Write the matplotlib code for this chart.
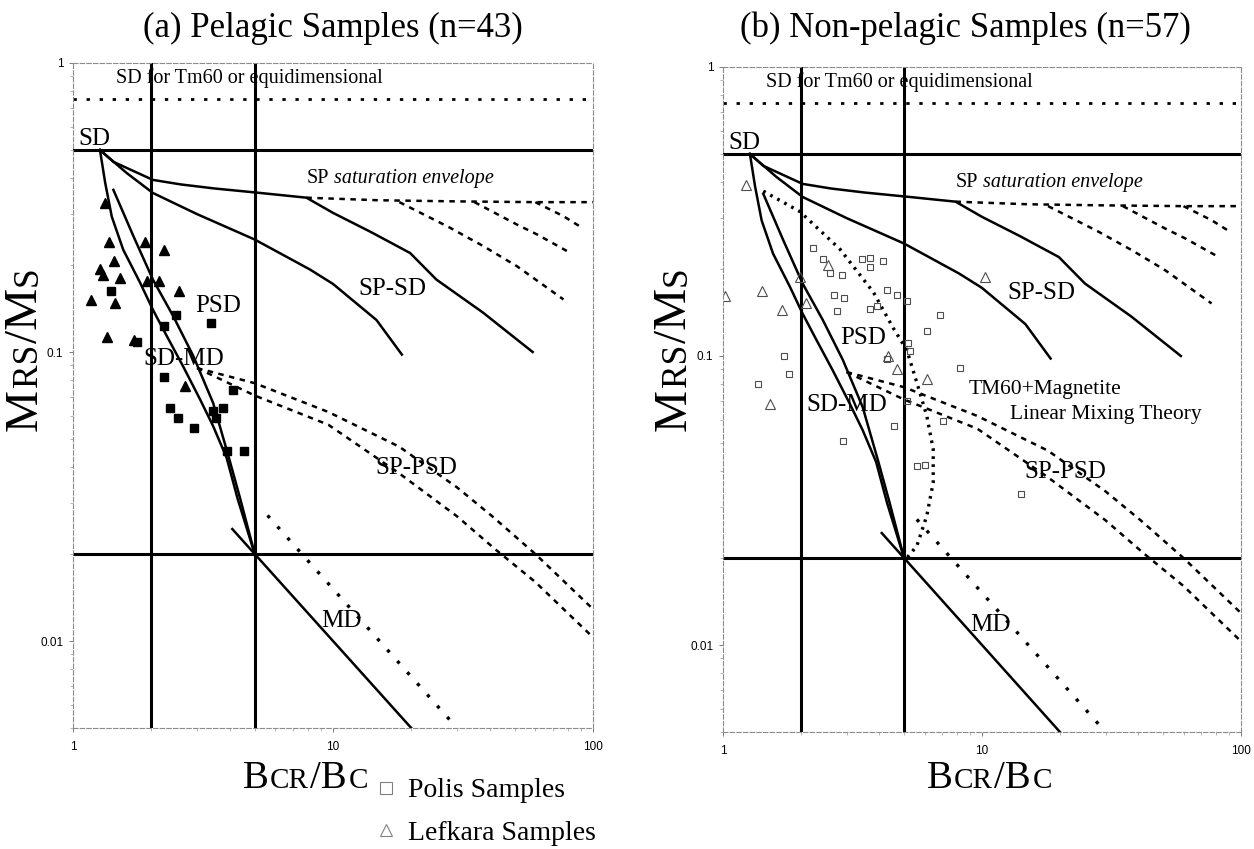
import numpy as np
import matplotlib.pyplot as plt
from matplotlib.lines import Line2D
from matplotlib.textpath import TextToPath
from matplotlib.font_manager import FontProperties
from matplotlib.transforms import offset_copy

SERIF = "Liberation Serif"
SANS = "Liberation Sans"

# ---------------------------------------------------------------------------
# Reference grid (Bcr/Bc, Mrs/Ms)
# ---------------------------------------------------------------------------
bc_ratio_lines = [2.0, 5.0]
ms_ratio_lines = [0.5, 0.02]
equidim_level = 0.75

# SD-MD mixing curves
sdmd1_x = [1.27, 1.33, 1.41, 1.56, 1.81, 2.03, 2.29, 2.65, 3.08, 3.46, 3.9, 4.3, 5.0]
sdmd1_y = [0.5, 0.385, 0.294, 0.226, 0.174, 0.14, 0.114, 0.0893, 0.0686, 0.0554, 0.043, 0.031, 0.02]
sdmd2_x = [1.43, 1.71, 2.03, 2.43, 2.9, 3.46, 3.96, 4.4, 5.0]
sdmd2_y = [0.364, 0.251, 0.178, 0.133, 0.097, 0.0666, 0.0437, 0.031, 0.02]

# SP-SD mixing curves and SP saturation envelope
spsd1_x = [1.27, 1.43, 2.03, 2.6, 3.5, 5.1, 7.9, 10, 14, 19.8, 25, 37.7, 58.6]
spsd1_y = [0.5, 0.455, 0.394, 0.38, 0.368, 0.356, 0.342, 0.303, 0.26, 0.22, 0.178, 0.137, 0.1]
spsd2_x = [1.27, 1.61, 2.03, 3.0, 5.0, 8.15, 10, 14.7, 18.4]
spsd2_y = [0.5, 0.416, 0.355, 0.3, 0.245, 0.193, 0.172, 0.129, 0.098]
env_x = [7.9, 15, 30, 60, 100]
env_y = [0.342, 0.335, 0.332, 0.33, 0.33]
env_b1_x = [18, 28, 38, 51, 77]
env_b1_y = [0.33, 0.27, 0.232, 0.198, 0.152]
env_b2_x = [35, 51, 61, 82]
env_b2_y = [0.33, 0.276, 0.255, 0.22]
env_b3_x = [60, 77, 89]
env_b3_y = [0.33, 0.295, 0.272]

# SP-PSD curves
sppsd1_x = [3.0, 5.0, 9.6, 18, 30, 41, 60, 100]
sppsd1_y = [0.088, 0.078, 0.062, 0.047, 0.034, 0.027, 0.02, 0.0129]
sppsd2_x = [3.0, 5.0, 9.6, 18, 30, 42, 60, 100]
sppsd2_y = [0.088, 0.0707, 0.056, 0.038, 0.027, 0.0208, 0.016, 0.0103]

# MD trends
md_x = [4.1, 20.2]
md_y = [0.0244, 0.00495]
md_dot_x = [5.6, 30]
md_dot_y = [0.0272, 0.005]

# TM60 + magnetite linear mixing (non-pelagic panel)
tm60_x = [1.43, 1.98, 2.83, 3.81, 4.54, 5.12, 5.6, 6.12, 6.48, 6.48, 6.12, 5.6, 5.0]
tm60_y = [0.372, 0.316, 0.234, 0.166, 0.125, 0.105, 0.081, 0.062, 0.0476, 0.0365, 0.028, 0.022, 0.0195]

# ---------------------------------------------------------------------------
# Samples
# ---------------------------------------------------------------------------
pel_lefkara_x = [1.33, 1.37, 1.89, 2.23, 1.44, 1.27, 1.31, 1.52, 1.92, 2.15, 2.56, 1.17, 1.45, 1.35, 1.71, 2.69]
pel_lefkara_y = [0.328, 0.241, 0.241, 0.226, 0.206, 0.193, 0.184, 0.181, 0.176, 0.176, 0.162, 0.151, 0.148, 0.113, 0.11, 0.0764]
pel_polis_x = [1.40, 2.5, 2.24, 3.38, 1.76, 2.23, 4.14, 2.37, 3.76, 2.54, 3.46, 3.55, 2.92, 3.92, 4.55]
pel_polis_y = [0.162, 0.134, 0.123, 0.126, 0.108, 0.0819, 0.074, 0.064, 0.064, 0.0593, 0.0625, 0.0593, 0.0547, 0.0454, 0.0454]

np_lefkara_x = [1.23, 1.02, 1.42, 1.69, 1.98, 2.09, 2.55, 1.52, 4.35, 4.68, 6.15, 10.3]
np_lefkara_y = [0.389, 0.161, 0.168, 0.144, 0.187, 0.153, 0.207, 0.068, 0.1, 0.09, 0.083, 0.188]
np_polis_x = [2.23, 2.44, 2.59, 2.87, 2.67, 2.92, 2.75, 3.43, 3.69, 4.16, 3.69, 4.28, 4.68, 3.69,
              3.92, 5.12, 6.87, 6.12, 5.19, 4.28, 5.27, 1.72, 1.79, 1.36, 8.2, 5.12, 7.1, 4.57,
              2.9, 5.6, 6.03, 14.2]
np_polis_y = [0.237, 0.216, 0.194, 0.191, 0.163, 0.159, 0.143, 0.216, 0.219, 0.213, 0.204, 0.169,
              0.163, 0.145, 0.149, 0.155, 0.139, 0.122, 0.111, 0.0974, 0.104, 0.1, 0.0865, 0.0798,
              0.0912, 0.07, 0.0597, 0.0573, 0.0508, 0.0417, 0.042, 0.0333]

_ttp = TextToPath()


def caps_text(fig, x, y, parts, rotation=0):
    """Write text made of differently sized pieces along one baseline."""
    widths = []
    for s, size in parts:
        w, _, _ = _ttp.get_text_width_height_descent(
            s, FontProperties(family=SERIF, size=size), ismath=False)
        widths.append(w + 1.0)
    pos = -sum(widths) / 2
    for (s, size), w in zip(parts, widths):
        dx, dy = (pos, 0) if rotation == 0 else (0, pos)
        tr = offset_copy(fig.transFigure, fig=fig, x=dx, y=dy, units="points")
        fig.text(x, y, s, transform=tr, fontsize=size, family=SERIF,
                 rotation=rotation, rotation_mode="anchor",
                 ha="left", va="baseline")
        pos += w


def draw_day_plot(ax):
    ax.set_xscale("log")
    ax.set_yscale("log")
    ax.set_xlim(1, 100)
    ax.set_ylim(0.005, 1)

    for v in bc_ratio_lines:
        ax.axvline(v, color="black", lw=2.2)
    for h in ms_ratio_lines:
        ax.axhline(h, color="black", lw=2.2)
    ax.axhline(equidim_level, color="black", lw=2.0, ls=(0, (1.2, 3.5)))

    solid = dict(color="black", lw=1.8)
    ax.plot(sdmd1_x, sdmd1_y, **solid)
    ax.plot(sdmd2_x, sdmd2_y, **solid)
    ax.plot(spsd1_x, spsd1_y, **solid)
    ax.plot(spsd2_x, spsd2_y, **solid)
    ax.plot(md_x, md_y, **solid)

    dashed = dict(color="black", lw=1.8, ls=(0, (2.2, 2.2)))
    ax.plot(sppsd1_x, sppsd1_y, **dashed)
    ax.plot(sppsd2_x, sppsd2_y, **dashed)
    ax.plot(env_x, env_y, **dashed)
    for bx, by in [(env_b1_x, env_b1_y), (env_b2_x, env_b2_y), (env_b3_x, env_b3_y)]:
        ax.plot(bx, by, **dashed)
    ax.plot(md_dot_x, md_dot_y, color="black", lw=2.4, ls=(0, (1.0, 3.5)))

    ax.text(1.46, 0.85, "SD for Tm60 or equidimensional", fontsize=14.5,
            family=SERIF, va="baseline")
    ax.text(1.05, 0.52, "SD", fontsize=18, family=SERIF, va="baseline")
    sp = ax.text(7.9, 0.385, "SP", fontsize=14.5, family=SERIF, va="baseline")
    ax.annotate(" saturation envelope", xy=(1, 0), xycoords=sp, fontsize=14.5,
                family=SERIF, style="italic", va="bottom")
    ax.text(12.5, 0.158, "SP-SD", fontsize=18, family=SERIF, va="baseline")
    ax.text(14.6, 0.0378, "SP-PSD", fontsize=18, family=SERIF, va="baseline")
    ax.text(9.0, 0.0112, "MD", fontsize=18, family=SERIF, va="baseline")

    for spine in ax.spines.values():
        spine.set_color("0.55")
        spine.set_linewidth(0.8)
        spine.set_linestyle((0, (4, 2)))
    ax.set_xticks([1, 10, 100])
    ax.set_xticklabels(["1", "10", "100"])
    ax.set_yticks([1, 0.1, 0.01])
    ax.set_yticklabels(["1", "0.1", "0.01"])
    ax.tick_params(which="major", length=3, width=0.6, color="0.4", pad=4,
                   labelsize=8.5)
    ax.tick_params(axis="x", which="major", pad=6)
    ax.tick_params(which="minor", length=2, width=0.5, color="0.6")
    for lbl in ax.get_xticklabels() + ax.get_yticklabels():
        lbl.set_family(SANS)


fig = plt.figure(figsize=(12.54, 8.49), dpi=100)
ax_a = fig.add_axes([0.0582, 0.1425, 0.4147, 0.7833])
ax_b = fig.add_axes([0.5766, 0.1378, 0.4130, 0.7833])

# (a) pelagic
draw_day_plot(ax_a)
ax_a.plot(pel_lefkara_x, pel_lefkara_y, ls="none", marker="^", ms=6.5,
          color="black")
ax_a.plot(pel_polis_x, pel_polis_y, ls="none", marker="s", ms=6, color="black")
ax_a.text(2.94, 0.138, "PSD", fontsize=18, family=SERIF, va="baseline")
ax_a.text(1.86, 0.0905, "SD-MD", fontsize=18, family=SERIF, va="baseline")

# (b) non-pelagic
draw_day_plot(ax_b)
ax_b.plot(tm60_x, tm60_y, color="black", lw=2.4, ls=(0, (0.8, 1.6)))
ax_b.plot(np_polis_x, np_polis_y, ls="none", marker="s", ms=5, mfc="none",
          mec="0.3", mew=0.8)
ax_b.plot(np_lefkara_x, np_lefkara_y, ls="none", marker="^", ms=7, mfc="none",
          mec="0.3", mew=0.8)
ax_b.text(2.83, 0.11, "PSD", fontsize=18, family=SERIF, va="baseline")
ax_b.text(2.1, 0.0646, "SD-MD", fontsize=18, family=SERIF, va="baseline")
ax_b.text(8.85, 0.0738, "TM60+Magnetite", fontsize=15.5, family=SERIF,
          va="baseline")
ax_b.text(12.8, 0.0605, "Linear Mixing Theory", fontsize=15.5, family=SERIF,
          va="baseline")

# titles
fig.text(333 / 1254, 1 - 28 / 849, "(a) Pelagic Samples (n=43)", fontsize=25,
         family=SERIF, ha="center", va="center")
fig.text(965 / 1254, 1 - 28 / 849, "(b) Non-pelagic Samples (n=57)",
         fontsize=25, family=SERIF, ha="center", va="center")

# axis labels with small capitals
ylab = [("M", 34), ("RS", 25.5), ("/M", 34), ("S", 25.5)]
xlab = [("B", 28), ("CR", 21), ("/B", 28), ("C", 21)]
caps_text(fig, 37 / 1254, 1 - 348 / 849, ylab, rotation=90)
caps_text(fig, 686 / 1254, 1 - 348 / 849, ylab, rotation=90)
caps_text(fig, 306 / 1254, 1 - 788 / 849, xlab)
caps_text(fig, 990 / 1254, 1 - 788 / 849, xlab)

# sample legend
handles = [
    Line2D([], [], ls="none", marker="s", ms=8, mfc="none", mec="0.5", mew=0.8),
    Line2D([], [], ls="none", marker="^", ms=9, mfc="none", mec="0.5", mew=0.8),
]
fig.legend(handles, ["Polis Samples", "Lefkara Samples"], loc="upper left",
           bbox_to_anchor=(375 / 1254, 1 - 778 / 849), frameon=False,
           prop=FontProperties(family=SERIF, size=20), handlelength=0.8,
           handletextpad=0.4, labelspacing=0.6, borderpad=0,
           borderaxespad=0)

fig.savefig("out.png", dpi=100, facecolor="white")
